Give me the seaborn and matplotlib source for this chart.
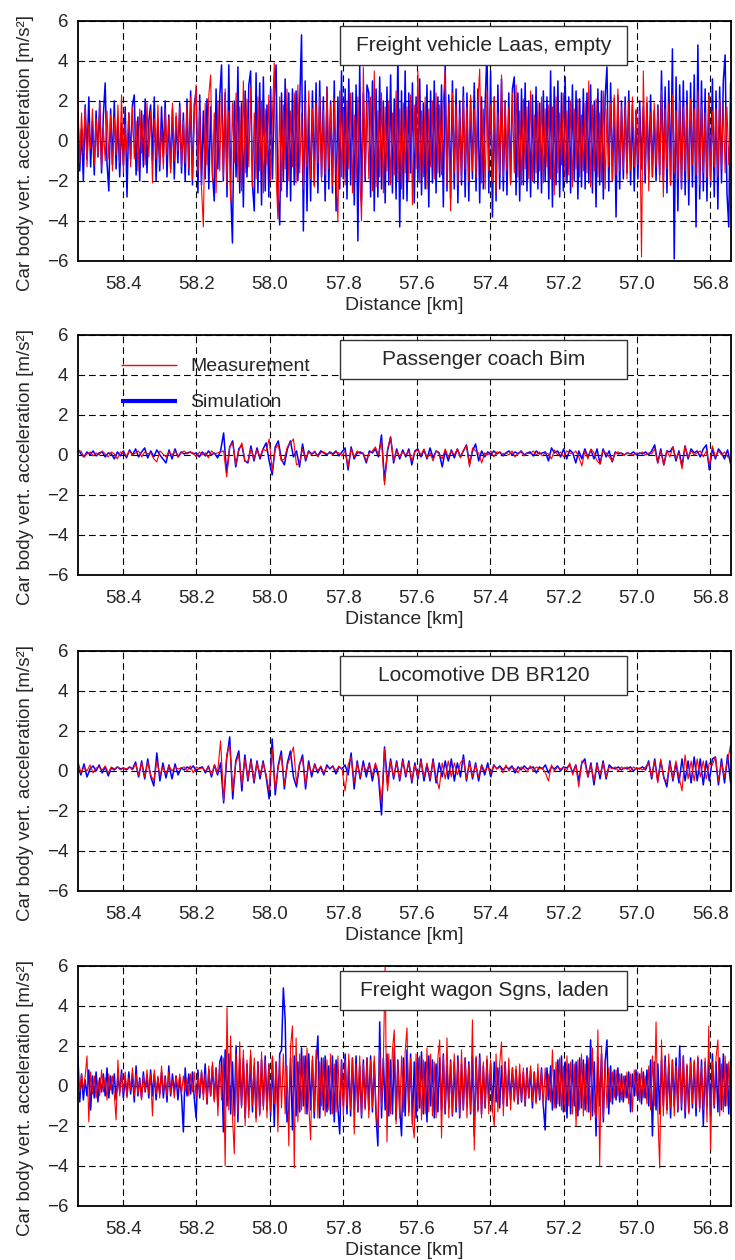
import numpy as np
import pandas as pd
import matplotlib
matplotlib.use("Agg")
import matplotlib.pyplot as plt
from matplotlib.patches import Rectangle
from matplotlib.lines import Line2D
import seaborn as sns

# distance range covered by the recordings [km]
km_start, km_end = 58.523, 56.745

titles = ["Freight vehicle Laas, empty", "Passenger coach Bim",
          "Locomotive DB BR120", "Freight wagon Sgns, laden"]

# panel 1: freight vehicle Laas, empty  (one row = approx. 0.1 km)
laas_meas = [
    2.0, -1.1, 1.4, -0.6, 1.7, -1.3, 0.9, -0.4, 1.6, -1.2, 1.1, -0.8, 1.9, -1.4, 0.7, -1.0, 1.5, -0.9, 1.3, -1.5,
    1.2, -0.7, 1.8, -1.1, 2.3, -1.6, 0.8, -0.5, 1.4, -1.3, 1.7, -0.9, 1.0, -1.5, 1.6, -0.6, 1.3, -1.2, 1.9, -0.8,
    1.5, -2.1, 1.1, -0.9, 1.8, -1.2, 0.6, -1.4, 1.6, -0.7, 1.2, -1.6, 1.9, -1.0, 1.4, -0.5, 1.7, -1.3, 1.0, -1.1,
    1.8, -1.4, 2.2, -1.9, 1.3, 2.8, -1.6, 1.5, -2.4, -4.3, 1.9, -1.2, 2.3, 3.3, -2.0, 1.4, -2.6, 2.0, -1.5, 2.4,
    -1.8, 2.6, -2.2, 1.5, -3.0, 1.9, -1.1, 2.4, -2.0, 1.7, -2.5, 3.0, -1.6, 2.1, -1.3, 2.7, -2.3, 1.4, -1.9, 2.2,
    -1.5, 2.0, -2.6, 1.6, -1.2, 2.3, -2.0, 1.3, 3.9, -1.7, -3.9, 2.2, -2.5, 1.8, -1.4, 2.6, -2.0, 1.5, -1.3, 2.4,
    -2.1, 2.8, -1.6, 1.4, -2.4, 2.0, -1.3, 2.5, -1.9, 1.6, -2.3, 1.9, -1.1, 2.2, -2.0, 1.5, -1.7, 2.6, -1.4, 1.8,
    -2.2, 2.1, -1.5, -4.0, 2.5, -1.8, 1.6, -2.2, 2.0, -1.4, 2.4, -2.6, 1.3, -1.9, 2.2, -1.6, -4.0, 3.7, -1.8, 2.0,
    -1.9, 2.2, -2.5, 3.5, -2.3, 1.5, -1.8, 2.4, -2.6, 1.7, -1.5, 2.0, -2.2, 1.4, -1.7, 2.5, -2.0, 1.6, -2.4, 1.9,
    -1.6, 1.7, -2.0, 2.3, -3.2, 1.8, -1.4, 3.5, -2.1, 1.5, -1.8, 2.2, -2.4, 1.6, -1.3, 2.0, -1.9, 2.4, -1.6, 1.8,
    -1.7, 2.0, 3.5, -2.2, 1.9, -3.5, 2.4, -1.6, 1.8, -2.2, 1.4, -1.9, 2.2, -1.4, 1.7, -2.0, 2.3, -1.5, 1.6, -1.8,
    1.9, 3.6, -2.1, 1.6, -2.4, 2.5, -1.5, 1.8, -2.0, 2.2, -2.6, 1.4, -1.7, 3.3, -1.8, 2.0, -1.5, 1.7, -2.2, 2.4,
    -1.6, 2.8, -1.8, 1.5, -2.2, 2.1, -1.4, 1.7, -1.9, 2.5, -2.0, 1.3, -1.6, 1.9, -1.5, 2.2, -2.1, 1.6, -1.3, 1.8,
    -1.9, 1.7, -2.7, 2.2, -1.6, 1.4, -1.2, 2.4, -2.0, 1.5, -1.7, 2.0, -2.3, 1.6, -1.4, 2.1, -1.8, 1.3, -1.5, 1.9,
    -1.6, 3.0, -2.3, 1.8, -1.5, 2.1, -1.8, 1.4, -2.0, 2.5, -2.4, 1.6, -1.3, 1.9, -2.0, 2.3, -1.7, 2.6, -1.5, 1.7,
    -1.4, 1.8, -1.9, 2.0, -1.5, 2.2, -1.3, 1.6, -1.2, 1.5, -5.8, 3.5, -1.6, 2.2, -2.5, 1.4, -1.8, 1.9, -1.3, 1.7,
    -2.0, 2.5, -2.8, 1.6, -1.4, 1.9, -2.2, 2.3, -1.6, 1.5, -1.9, 2.0, -2.4, 1.7, -1.5, 1.8, -1.9, 2.1, -1.2, 1.6,
    -1.7, 2.5, -2.2, 1.8, -1.6, 1.4, -1.8, 2.3, -2.0, 1.5, -1.3, 1.6, -1.8, 2.1, -1.4, 1.9, -1.6, 1.7, -1.2, 1.3,
]
laas_sim = [
    1.2, -1.5, 0.6, -2.0, 1.8, -0.9, 2.2, -1.3, 1.0, -1.7, 1.5, -0.8, 2.0, -1.6, 1.3, 2.9, -1.1, -2.5, 1.6, -1.2,
    2.0, -1.4, 1.1, -1.8, 0.9, -1.2, 1.7, -2.8, 1.4, -0.9, 1.8, 2.3, -1.7, 1.2, -2.0, 1.5, -1.3, 2.1, -1.6, 1.0,
    1.8, -1.0, 2.2, -2.0, 1.1, -1.5, 1.7, -0.8, 2.0, -1.8, 1.3, -1.4, 1.6, -1.9, 1.2, -1.1, 1.9, -1.6, 1.4, -2.0,
    2.1, -1.7, 2.5, -2.2, 1.8, 2.5, -2.6, 2.3, -2.2, 1.5, -1.9, 2.1, -2.4, 1.7, -1.6, -3.0, 2.6, -1.4, 2.2, 3.8,
    -2.0, 2.4, -2.8, 3.8, -2.4, -5.1, 2.0, -1.8, 3.7, -2.6, 1.9, -3.3, 2.5, -1.8, 2.8, 3.5, -2.2, -3.5, 3.4, -2.6,
    2.9, -3.2, 3.2, -2.5, 1.8, -2.8, 2.6, -1.9, 2.2, 3.8, -2.7, -4.2, 2.4, -2.0, 3.1, -2.8, 2.4, -3.0, 2.6, -2.2,
    2.5, -2.0, 1.9, 5.3, -4.5, 3.0, -3.5, 1.7, -3.0, 2.5, -2.2, 2.9, -2.6, 3.0, -1.8, 2.2, -3.0, 2.7, -2.4, 2.0,
    -2.6, 3.0, -3.5, 2.2, -2.4, 3.5, -1.9, 2.6, -2.9, 3.1, -2.2, 2.4, -3.2, 2.8, -5.0, 3.8, -3.0, 2.4, -2.0, 2.8,
    2.4, -2.8, 3.0, -3.5, 2.6, -2.8, 3.2, -2.4, 2.0, -3.1, 2.7, -2.2, 3.3, -2.6, 2.1, -2.9, 4.5, -4.3, 2.5, -2.9,
    3.5, -3.0, 2.4, -1.6, 2.9, -3.1, 2.2, -2.0, 3.1, -2.7, 1.9, -2.4, 2.8, -3.3, 2.5, -2.1, 3.0, -2.6, 2.2, -1.8,
    2.8, -3.3, 3.8, -2.5, 2.3, -2.9, 3.0, -2.4, 2.6, -3.1, 2.0, -2.2, 2.7, -2.8, 2.4, -3.0, 2.1, -1.9, 2.9, -2.5,
    2.6, -3.1, 2.2, -2.4, 1.9, 4.5, -2.6, 3.5, -3.8, 2.2, -3.0, 2.8, -2.4, 3.1, -2.5, 2.0, -2.7, 2.4, -2.1, 2.6,
    3.2, -2.7, 2.4, -3.0, 2.6, -2.2, 2.9, -2.5, 2.0, -2.8, 2.3, -2.1, 2.7, -2.4, 1.9, -2.6, 2.5, -2.0, 2.2, -2.9,
    3.5, -3.3, 2.7, -2.2, 3.0, -2.8, 2.4, -2.5, 3.2, -2.1, 2.2, -2.6, 2.8, -2.0, 2.5, -2.9, 2.1, -2.3, 2.6, -2.4,
    2.4, -2.1, 2.8, -2.6, 2.0, -3.3, 2.6, -2.2, 2.5, -2.9, 2.2, 3.7, -2.5, 2.9, -2.0, 2.1, -3.8, 2.3, -2.4, 2.0,
    -1.9, 2.2, -1.6, 2.5, -2.2, 1.8, -2.5, 1.5, -1.9, 2.0, -1.4, 1.7, -2.1, 1.9, -1.6, 2.3, -1.8, 1.5, -2.0, 1.8,
    -1.7, 3.5, -2.0, 2.7, -2.6, 3.0, -2.2, 4.6, -5.9, 3.2, -3.5, 2.8, -2.4, 3.0, -2.7, 2.5, -3.2, 2.9, -2.3, 3.3,
    -4.3, 4.8, -2.9, 3.0, -2.5, 2.6, -3.0, 2.4, -2.2, 3.1, -2.8, 2.5, -3.4, 2.7, -2.1, 3.0, 4.3, -2.6, -4.3, 2.9,
]

# panel 2: passenger coach Bim
bim_meas = [
    0.1, 0.2, -0.1, 0.05, 0.15, -0.05, 0.1, 0.0, 0.2, 0.05, -0.1, 0.15,
    0.05, -0.2, 0.15, 0.1, -0.05, 0.2, 0.0, 0.1, 0.2, -0.1, 0.15, 0.05,
    0.1, -0.2, -0.35, 0.2, 0.05, -0.1, 0.15, 0.0, 0.2, -0.1, 0.1, 0.2,
    0.05, 0.15, 0.1, -0.1, 0.15, 0.0, 0.1, -0.15, 0.2, 0.05, 0.1, 0.15,
    0.2, -1.1, 0.4, 0.6, -0.5, 0.2, 0.6, -0.3, -0.35, 0.3, -0.2, 0.25,
    -0.1, 0.3, 0.2, 0.8, -0.8, 0.3, 0.5, -0.3, -0.2, 0.4, 0.6, 0.8,
    -0.5, -0.4, 0.3, -0.2, 0.15, 0.0, 0.2, -0.1, 0.1, 0.15, 0.05, 0.1,
    0.0, 0.15, 0.1, -0.05, 0.2, -0.6, 0.3, -0.1, 0.2, 0.05, 0.1, -0.3,
    0.1, 0.2, 0.4, 0.0, 0.7, -1.5, 0.3, 0.9, -0.3, 0.2, -0.1, 0.15,
    0.0, 0.2, -0.3, 0.15, 0.25, 0.0, 0.3, -0.15, 0.1, -0.3, 0.2, 0.05,
    -0.2, 0.3, -0.1, 0.2, 0.0, 0.3, -0.15, 0.25, 0.45, -0.6, 0.35, 0.2,
    0.1, -0.4, 0.1, 0.0, 0.2, -0.1, 0.15, 0.1, 0.05, 0.1, 0.0, 0.2,
    -0.1, 0.1, 0.15, -0.05, 0.1, 0.05, 0.2, 0.0, 0.15, -0.05, 0.1, 0.05,
    -0.2, 0.25, 0.0, 0.15, -0.1, 0.2, 0.1, 0.05, 0.2, -0.1, -0.55, 0.2,
    -0.2, 0.3, 0.1, -0.3, -0.45, 0.2, 0.1, -0.1, -0.3, 0.1, 0.15, 0.05,
    0.0, 0.1, 0.05, 0.0, 0.1, 0.05, 0.15, 0.0, 0.1, 0.05, 0.3, -0.4,
    0.2, -0.5, 0.2, -0.1, 0.4, -0.2, 0.1, -0.7, 0.45, -0.1, 0.2, 0.0,
    0.1, 0.2, -0.1, 0.2, -0.5, 0.45, -0.1, 0.2, 0.0, 0.15, -0.1, -0.2,
]
bim_sim = [
    0.3, 0.05, -0.1, 0.15, 0.0, 0.2, -0.05, 0.1, 0.15, -0.1, 0.1, 0.05,
    -0.2, 0.15, -0.05, 0.2, -0.15, 0.25, 0.0, 0.3, -0.1, 0.15, 0.35, -0.15,
    0.2, -0.1, 0.25, 0.0, -0.2, -0.4, 0.25, -0.2, 0.3, -0.1, 0.15, 0.05,
    0.1, 0.15, 0.05, 0.1, -0.1, 0.15, -0.05, 0.2, 0.0, 0.1, -0.15, 0.2,
    1.1, -0.9, 0.4, 0.7, -0.6, 0.3, 0.5, -0.3, -0.4, 0.45, -0.3, 0.35,
    -0.2, 0.3, 0.6, -0.3, -1.0, 0.4, 0.7, -0.2, -0.5, 0.3, 0.7, -0.1,
    0.2, -0.6, 0.55, -0.3, 0.2, 0.05, 0.15, -0.05, 0.2, 0.1, 0.0, 0.15,
    0.05, 0.2, -0.05, 0.15, 0.35, -0.75, 0.4, -0.2, 0.1, 0.15, 0.05, -0.4,
    0.2, 0.1, 0.3, -0.1, 1.0, -1.3, 0.2, 0.9, -0.4, 0.3, -0.2, 0.25,
    -0.1, 0.3, -0.5, 0.2, 0.3, -0.1, 0.25, -0.2, 0.35, -0.15, 0.2, 0.1,
    -0.6, 0.2, -0.3, 0.25, -0.15, 0.3, -0.1, 0.2, 0.5, -0.45, 0.2, 0.55,
    -0.3, 0.2, -0.1, 0.15, 0.0, 0.2, 0.05, 0.15, -0.05, 0.1, 0.2, 0.0,
    0.15, 0.05, 0.2, 0.0, 0.1, 0.15, -0.05, 0.2, 0.05, 0.1, 0.15, -0.3,
    0.35, 0.1, 0.2, -0.1, 0.3, -0.2, 0.25, 0.1, -0.4, 0.2, -0.2, 0.3,
    -0.1, 0.25, -0.2, 0.3, -0.45, 0.3, -0.1, 0.2, -0.35, 0.15, 0.05, 0.1,
    0.0, 0.1, 0.05, 0.15, 0.0, 0.1, 0.05, 0.15, 0.0, 0.2, 0.5, -0.4,
    0.3, -0.5, 0.2, 0.15, 0.4, -0.3, 0.2, -0.55, 0.45, -0.2, 0.3, 0.1,
    0.2, -0.1, 0.3, 0.5, -0.75, 0.3, -0.2, 0.3, 0.1, -0.2, 0.25, -0.45,
]

# panel 3: locomotive DB BR120
br120_meas = [
    0.5, -0.1, 0.2, 0.0, 0.3, -0.1, 0.15, 0.2, 0.05, 0.25, -0.1, 0.2,
    0.1, 0.2, 0.05, 0.15, 0.1, 0.2, 0.05, 0.35, -0.2, 0.4, -0.3, 0.45,
    -0.2, -0.5, 0.5, -0.2, 0.2, -0.15, 0.25, 0.0, 0.2, 0.1, 0.15, 0.2,
    0.0, 0.25, -0.1, 0.2, 0.1, 0.15, 0.0, 0.2, -0.2, 0.3, -0.1, 1.5,
    -1.5, 0.8, 1.3, -1.0, 0.4, 0.8, -0.7, 0.6, -0.4, 0.5, -0.5, 0.4,
    -0.2, 0.4, -0.2, -1.0, 1.1, -0.9, 0.2, 0.8, -0.7, 0.3, 0.7, 1.2,
    -0.6, 0.4, 0.6, -0.7, 0.3, -0.1, 0.3, 0.0, 0.25, -0.1, 0.2, 0.15,
    0.2, 0.0, 0.25, 0.1, -1.0, 0.3, 0.7, -0.6, 0.4, -0.3, 0.3, 0.0,
    0.3, -0.2, 0.4, -0.1, -1.6, 1.1, -1.0, 0.5, -0.3, 0.4, -0.4, 0.5,
    -0.2, 0.4, -0.5, 0.3, -0.3, 0.5, -0.3, 0.4, -0.4, 0.5, -0.3, -0.9,
    0.4, -0.4, 0.5, -0.3, 0.4, -0.2, 0.4, 0.6, -0.4, 0.4, -0.3, 0.3,
    -0.3, 0.3, 0.0, 0.2, -0.1, 0.3, 0.1, 0.2, -0.1, 0.3, 0.0, 0.2,
    0.1, -0.1, 0.2, 0.1, -0.05, 0.25, 0.0, 0.2, 0.1, 0.15, -0.1, -0.5,
    0.3, 0.0, 0.2, 0.1, 0.2, 0.0, 0.4, -0.2, 0.3, -0.8, 0.5, 0.4,
    -0.3, 0.3, -0.5, 0.3, -0.2, 0.4, -0.3, 0.2, 0.1, 0.2, 0.0, 0.2,
    0.1, 0.2, 0.0, 0.2, 0.1, 0.15, 0.05, 0.2, 0.4, -0.3, 0.5, -0.6,
    0.6, -0.4, -0.5, 0.4, -0.4, 0.5, -0.3, -1.0, 0.8, -0.4, 0.5, -0.5,
    0.6, -0.3, 0.5, -0.4, 0.4, 0.3, 0.7, -0.5, 0.4, -0.3, 0.5, 1.3,
]
br120_sim = [
    0.2, -0.2, 0.35, -0.3, 0.1, 0.25, 0.0, 0.3, -0.1, 0.2, -0.25, 0.15,
    0.05, 0.2, 0.1, 0.15, 0.05, 0.2, 0.1, 0.45, -0.3, 0.5, -0.4, 0.6,
    -0.3, -0.75, 0.9, -0.5, 0.4, -0.35, 0.3, -0.4, 0.35, -0.2, 0.15, 0.05,
    0.2, 0.1, 0.25, 0.0, 0.15, 0.2, -0.1, 0.25, -0.3, 0.3, -0.2, 0.4,
    -1.6, 0.6, 1.7, -1.4, 0.5, 1.0, -1.0, 0.8, -0.5, 0.6, -0.6, 0.5,
    -0.4, 0.5, -0.3, -1.4, 1.6, -1.2, 0.3, 1.0, -0.9, 0.4, 1.0, -0.3,
    -0.8, 0.3, 0.8, -0.9, 0.5, -0.3, 0.35, -0.1, 0.2, -0.2, 0.3, 0.1,
    0.25, -0.15, 0.2, 0.1, 0.3, -0.2, 0.9, -0.9, 0.5, -0.4, 0.5, -0.3,
    0.4, -0.5, 0.3, -0.3, -2.2, 1.2, -0.6, 0.6, -0.4, 0.5, -0.5, 0.6,
    -0.3, 0.5, -0.6, 0.4, -0.4, 0.6, -0.5, 0.3, -0.5, 0.6, -0.6, 0.4,
    -0.3, 0.5, -0.4, 0.6, -0.5, 0.4, -0.3, 0.8, -0.5, 0.5, -0.4, 0.4,
    -0.5, 0.3, -0.2, 0.4, -0.3, 0.3, 0.1, 0.25, 0.05, 0.2, 0.1, 0.25,
    -0.1, 0.2, 0.05, 0.25, 0.1, 0.15, 0.2, -0.1, 0.2, 0.1, 0.3, -0.1,
    0.2, 0.1, 0.25, 0.0, 0.2, 0.15, 0.3, -0.1, 0.3, -0.5, 0.4, 0.6,
    -0.3, 0.4, -0.7, 0.4, -0.4, 0.5, -0.4, 0.3, 0.15, 0.1, 0.2, 0.05,
    0.15, 0.1, 0.2, 0.0, 0.15, 0.1, 0.2, 0.05, 0.5, -0.4, 0.6, -0.5,
    0.5, -0.3, -0.8, 0.5, -0.5, 0.4, -0.6, 0.6, -0.5, 0.5, -0.6, 0.7,
    -0.5, 0.6, -0.7, 0.5, -0.5, 0.6, 0.7, -0.7, 0.6, -0.6, 0.8, -0.6,
]

# panel 4: freight wagon Sgns, laden
sgns_meas = [
    0.4, -0.3, 0.6, -0.2, 0.5, 1.5, -1.8, 0.7, -0.4, 0.5, -0.6, 0.3, -0.5, 0.8, -0.3, 0.4, -0.7, 0.6, -0.2, 0.5,
    -0.4, -1.7, 1.3, -0.5, 0.6, -0.3, 0.7, -0.6, 0.4, -0.2, 0.9, -0.5, 0.6, -0.4, 0.3, -0.7, 0.5, -0.3, 0.8, -0.4,
    0.6, -1.5, 0.8, -0.4, 0.5, -0.6, 1.0, -0.3, 0.4, -0.5, 0.7, -0.4, 0.3, -0.6, 0.5, -0.2, 0.6, -0.4, 0.5, -0.3,
    0.4, -0.5, 0.6, -0.3, 0.7, -0.6, 0.5, -0.4, 0.8, -0.7, 0.6, -0.9, 1.0, -0.5, 1.2, -0.8, 0.9, -1.5, 1.1, -0.7,
    1.4, -4.0, 3.9, -1.2, 2.5, -1.5, -3.4, 1.6, -1.4, 2.2, -1.1, 1.8, -2.0, 1.3, -1.6, 1.8, -1.0, 1.4, -1.8, 1.2,
    -1.5, 1.7, -1.2, 1.3, -1.6, 1.1, -1.3, 1.5, -0.9, 1.2, -2.3, 1.4, -1.1, 1.6, -1.4, 1.0, -3.0, 2.0, 3.0, -4.1,
    2.4, -1.8, 1.6, -1.2, 1.5, -1.4, 1.9, -1.0, -2.7, 1.5, -1.3, 1.8, -1.6, 1.2, -1.0, 1.4, -1.5, 1.3, -1.2, 1.6,
    -1.4, 1.1, -1.3, 1.5, -1.1, 1.2, -1.5, 1.3, -1.0, 1.6, -1.2, 1.4, -2.4, 1.1, -1.3, 1.5, -1.5, 1.1, -1.2, 1.4,
    -1.6, 1.3, -1.1, 1.5, -1.3, -2.2, 1.8, -1.0, 1.2, 6.0, -2.8, 1.6, -1.4, 1.8, 2.8, -1.9, 1.2, -1.6, 1.5, -1.3,
    1.7, 2.9, -1.5, 1.4, -1.8, -2.6, 1.6, -1.2, 1.5, -1.7, 1.3, -1.4, 1.9, -1.3, 1.6, -1.5, 1.2, -1.6, 1.4, 2.3,
    -2.6, 1.5, -1.3, 2.4, -1.6, 1.2, -1.4, 1.6, -1.1, 1.3, -1.5, 1.8, -1.2, 1.4, -1.6, 1.1, -1.3, 3.3, -3.2, 1.5,
    -1.3, 1.4, -1.6, 1.2, -1.1, 1.5, -1.4, 1.3, -1.2, -2.0, 1.6, -1.3, 1.1, 2.2, -1.5, 1.2, -1.0, 1.4, -1.2, 0.9,
    -0.8, 1.0, -0.9, 1.1, -0.7, 0.9, -1.0, 0.8, -0.6, 1.0, -0.8, 0.7, -0.9, 1.1, -0.6, 0.8, -1.0, 0.9, -0.7, 0.6,
    -0.8, 1.8, -1.1, 1.2, -0.9, 1.4, -1.2, 1.0, -1.3, 1.5, -1.0, 1.2, -1.4, 1.1, -2.0, 1.3, -1.2, 1.6, -1.5, 1.1,
    -1.3, 1.4, -1.7, 1.9, -1.2, -1.6, 2.8, -4.0, 2.0, -1.6, 1.3, -1.1, 0.9, -0.8, 0.7, -0.6, 0.8, -0.5, 0.6, -0.7,
    0.5, -0.6, 0.7, -0.9, 0.6, -1.3, 0.8, -0.5, 0.7, -0.8, 0.9, -0.6, 0.5, -0.9, 1.0, -1.2, 1.5, -1.0, 3.2, -1.4,
    -4.1, 2.3, -1.5, 1.2, -1.4, 1.6, -1.1, 1.3, -1.5, 1.0, -1.2, 1.4, -1.0, 1.5, -1.3, 1.1, -1.4, 1.2, -0.9, 1.3,
    -1.1, 1.5, -1.3, 1.0, -1.2, 1.4, -1.8, 3.0, -3.2, 1.2, -1.0, 1.4, 2.3, -1.5, 1.1, -1.3, 1.5, -1.0, 1.2, -1.5,
]
sgns_sim = [
    1.5, -0.8, 0.6, -0.7, 0.3, -0.5, 0.8, -1.2, 0.5, -0.6, 0.7, -0.8, 0.4, -0.3, 0.6, -0.5, 0.9, -0.6, 0.5, -0.4,
    0.6, -0.7, 0.5, -0.3, 0.8, -0.6, 0.4, -0.5, 0.7, -0.4, 0.6, -0.8, 1.0, -0.5, 0.4, -0.6, 0.7, -0.3, 0.5, -0.6,
    0.8, -0.5, 0.6, -0.7, 0.4, -0.4, 0.7, -0.6, 0.5, -0.8, 1.0, -0.5, 0.6, -0.3, 0.5, -0.7, 0.4, -0.5, -2.3, 0.9,
    -0.5, 0.6, -0.4, 0.7, -0.6, -1.6, 0.8, -0.6, 0.7, -0.4, 1.1, -0.9, 0.8, -0.5, 1.0, -0.7, 0.9, -1.0, 1.2, 1.5,
    -2.3, 1.8, -1.0, 1.6, -1.4, 1.2, -1.5, 2.0, -1.8, 1.3, -1.0, 1.4, -1.6, 1.1, -1.2, 1.5, -1.3, 1.0, -1.6, 1.2,
    -1.4, 1.3, -1.0, 1.5, -1.2, 1.1, -1.5, 1.4, -2.0, 1.2, -1.3, 1.6, 1.8, 4.9, 3.3, -1.8, -1.2, 1.4, -2.2, 1.5,
    -1.5, 1.2, -1.3, 1.9, -1.0, 1.5, -1.4, 1.6, -1.2, 1.3, -1.6, 1.1, 2.5, -1.6, 1.4, -1.2, 1.5, -1.3, 1.0, -1.4,
    1.5, -1.8, 1.3, -1.1, -2.4, 1.3, -1.0, 1.6, -1.4, 1.2, -1.5, 1.4, -1.2, 1.5, -1.3, 1.0, -1.6, 1.3, -1.1, 1.4,
    -1.2, 1.5, -1.3, 1.2, -1.5, -3.0, 3.2, -1.6, 1.4, -1.2, 1.6, -1.5, 1.3, -1.4, 1.9, -1.7, 1.3, -1.1, -2.5, 1.4,
    -1.5, 1.8, -1.3, 1.6, -1.9, 1.2, -1.6, 1.4, -1.1, 1.7, -1.4, 1.2, -1.8, 1.5, -1.0, 1.3, -1.6, 1.1, -1.3, 1.4,
    -1.2, 1.6, -1.4, 1.0, -1.1, 1.3, -1.5, 1.2, -1.3, 1.5, -1.6, 1.1, -1.2, 1.4, -1.0, 1.2, -1.4, 1.5, -2.5, 1.4,
    -1.2, 1.6, -1.4, 1.0, -1.1, 1.3, -0.9, 1.1, -1.3, 1.2, -0.8, 0.9, -1.1, 1.0, -0.9, 1.2, -1.0, 0.8, -0.7, 0.9,
    -0.7, 0.8, -0.9, 0.6, -0.8, 0.7, -1.0, 0.9, -0.6, 0.8, -1.1, 0.7, -0.8, 0.6, -0.7, 0.9, -1.0, -2.2, 0.9, -0.7,
    1.0, -1.2, 0.8, -1.1, 1.3, -1.0, 1.5, -1.3, 1.2, -1.6, 1.1, -1.4, 1.3, -1.0, 1.2, -1.5, 1.4, -1.1, 1.3, -1.2,
    1.5, -1.3, 2.3, -1.5, 1.2, -2.5, 1.4, -1.0, 1.6, -1.8, 1.2, 2.3, -1.4, 1.0, -0.9, 0.8, -0.7, 0.9, -0.8, 0.6,
    -0.8, 0.5, -0.6, 0.7, -1.3, 0.6, -0.5, 0.8, -0.7, 0.6, -0.9, 0.7, -0.6, 0.8, -1.0, 1.3, -2.5, 1.2, -1.2, 1.1,
    -1.4, 1.3, -1.0, 1.5, -1.2, 1.1, -1.6, 1.3, -1.0, 1.4, -1.3, 2.0, -1.2, 1.5, -1.6, 1.0, -1.3, 1.4, -1.1, 1.2,
    -1.5, 1.4, -1.1, 1.3, -2.0, 1.2, -1.0, 1.3, -1.5, 1.6, -1.1, 1.2, -1.3, 1.4, -1.2, 1.6, -1.0, 1.1, -1.4, 1.3,
]

panels = [(laas_meas, laas_sim), (bim_meas, bim_sim),
          (br120_meas, br120_sim), (sgns_meas, sgns_sim)]

sns.set_style("white")
plt.rcParams['font.family'] = ['Liberation Sans', 'DejaVu Sans']

fig = plt.figure(figsize=(7.35, 12.6), dpi=100)
bottoms = [0.7929, 0.5437, 0.2929, 0.0429]

for i, (meas, sim) in enumerate(panels):
    ax = fig.add_axes([0.106, bottoms[i], 0.888, 0.1905])
    df_sim = pd.DataFrame({"km": np.linspace(km_start, km_end, len(sim)), "acc": sim})
    df_meas = pd.DataFrame({"km": np.linspace(km_start, km_end, len(meas)), "acc": meas})
    sns.lineplot(data=df_sim, x="km", y="acc", color="#0000ff", lw=1.1,
                 sort=False, estimator=None, ax=ax)
    sns.lineplot(data=df_meas, x="km", y="acc", color="#ff0000", lw=0.8,
                 sort=False, estimator=None, ax=ax)

    ax.set_xlim(km_start, km_end)
    ax.set_ylim(-6, 6)
    ax.set_xticks([58.4, 58.2, 58.0, 57.8, 57.6, 57.4, 57.2, 57.0, 56.8])
    ax.set_xticklabels(["58.4", "58.2", "58.0", "57.8", "57.6", "57.4", "57.2", "57.0", "56.8"])
    ax.set_yticks([-6, -4, -2, 0, 2, 4, 6])
    ax.tick_params(axis="both", length=0, labelsize=13.5)
    ax.tick_params(axis="x", pad=11)
    ax.tick_params(axis="y", pad=7)
    ax.set_axisbelow(True)
    ax.grid(True, color="black", lw=0.8, linestyle=(0, (6, 3.5)))
    for sp in ax.spines.values():
        sp.set_color("black")
        sp.set_linewidth(1.3)

    ax.set_xlabel("Distance [km]", fontsize=14)
    ax.set_ylabel("Car body vert. acceleration [m/s²]", fontsize=13.5)
    ax.xaxis.set_label_coords(0.5, -0.15)
    ax.yaxis.set_label_coords(-0.068, 0.45)

    # vehicle name box
    ax.add_patch(Rectangle((0.402, 0.817), 0.44, 0.162, transform=ax.transAxes,
                           facecolor="white", edgecolor="#333333", lw=1.0, zorder=5))
    ax.text(0.622, 0.898, titles[i], transform=ax.transAxes, ha="center", va="center",
            fontsize=15, zorder=6)

    if i == 1:
        handles = [Line2D([], [], color="#ff0000", lw=1.0, solid_capstyle="butt"),
                   Line2D([], [], color="#0000ff", lw=3.0, solid_capstyle="butt")]
        ax.legend(handles, ["Measurement", "Simulation"], loc="upper left",
                  bbox_to_anchor=(0.066, 0.905), frameon=False, fontsize=14,
                  handlelength=2.9, handletextpad=0.65, labelspacing=0.95,
                  borderpad=0, borderaxespad=0)

fig.savefig("out.png", dpi=100)
